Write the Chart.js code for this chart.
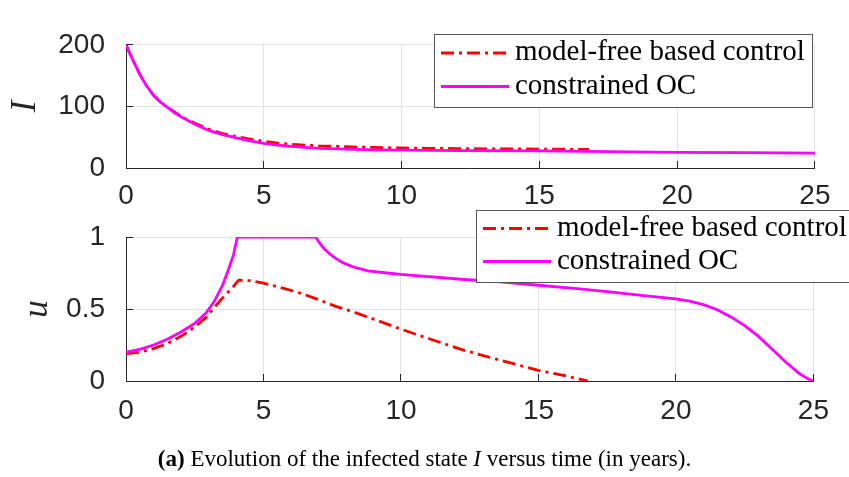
<!DOCTYPE html>
<html>
<head>
<meta charset="utf-8">
<script src="https://cdn.jsdelivr.net/npm/chart.js@4.4.1/dist/chart.umd.min.js"></script>
<style>
  body { margin: 0; background: #fff; }
  #wrap { position: relative; width: 849px; height: 477px; overflow: hidden; background: #fff; }
  #wrap canvas { position: absolute; left: 0; top: 0; }
  #caption {
    position: absolute; left: 0; top: 447px; width: 849px; text-align: center; white-space: nowrap;
    font-family: "Liberation Serif", serif; font-size: 23px; line-height: 23px; color: #000;
  }
</style>
</head>
<body>
<div id="wrap">
  <canvas id="infected" width="849" height="477"></canvas>
  <canvas id="control" width="849" height="477"></canvas>
  <div id="caption"><b>(a)</b> Evolution of the infected state <i>I</i> versus time (in years).</div>
</div>
<script>
// time grid ticks
const xTicks = [0, 5, 10, 15, 20, 25];
const iTicks = [0, 100, 200];
const uTicks = [0, 0.5, 1];

const seriesNames = ["model-free based control", "constrained OC"];

// infected state I(t)
const tI_mf = [0, 0.25, 0.5, 0.75, 1, 1.25, 1.5, 2, 2.5, 3, 3.5, 4, 4.5, 5, 5.5, 6, 7, 8, 9, 10, 11, 12, 13, 14, 15, 16, 16.8];
const I_mf  = [200, 175, 152, 133, 118, 107, 98.5, 84, 72.5, 63, 56, 51, 47, 43.5, 40.5, 38.5, 36, 34.5, 33.3, 32.5, 32, 31.5, 31.2, 31, 30.7, 30.4, 30.2];
const tI_oc = [0, 0.25, 0.5, 0.75, 1, 1.25, 1.5, 1.75, 2, 2.5, 3, 3.5, 4, 4.5, 5, 5.5, 6, 7, 8, 9, 10, 12, 15, 17.5, 20, 22.5, 25];
const I_oc  = [200, 175, 152, 133, 118, 107, 98.5, 90, 83, 71, 61, 54, 49, 44, 40, 37, 35, 32, 30.5, 29.5, 29, 28.3, 27.7, 26.5, 25.5, 24.8, 24.2];

// control u(t)
const tU_mf = [0, 0.5, 1, 1.5, 2, 2.5, 2.9, 3.3, 3.6, 3.9, 4.1, 4.5, 5, 5.5, 6, 6.5, 7, 7.6, 8.3, 9, 10, 11, 12.3, 13.5, 15, 16, 16.8];
const U_mf  = [0.19, 0.2, 0.225, 0.26, 0.31, 0.375, 0.44, 0.53, 0.595, 0.655, 0.70, 0.697, 0.68, 0.655, 0.63, 0.6, 0.565, 0.52, 0.478, 0.43, 0.36, 0.295, 0.213, 0.15, 0.074, 0.035, 0];
const tU_oc = [0, 0.5, 1, 1.5, 2, 2.5, 2.9, 3.2, 3.5, 3.7, 3.9, 4.05, 6.9, 7.05, 7.2, 7.4, 7.6, 7.9, 8.3, 8.8, 9.5, 10, 11, 12.3, 13.5, 15, 16.5, 17.5, 19, 20, 20.5, 21, 21.5, 22, 22.5, 23, 23.5, 24, 24.5, 24.8, 25];
const U_oc  = [0.2, 0.22, 0.25, 0.29, 0.34, 0.40, 0.47, 0.55, 0.66, 0.76, 0.87, 1, 1, 0.955, 0.92, 0.885, 0.855, 0.82, 0.79, 0.765, 0.75, 0.74, 0.725, 0.705, 0.69, 0.665, 0.64, 0.62, 0.59, 0.57, 0.555, 0.53, 0.495, 0.445, 0.385, 0.31, 0.22, 0.13, 0.05, 0.015, 0];

const AXIS = "#262626";
const GRID = "#e3e3e3";
const RED = "#ff0000";
const MAGENTA = "#ff00ff";
const DASHDOT = [13, 5, 3, 5];

const pts = (t, v) => t.map((x, i) => ({ x, y: v[i] }));

// boxed legend with line samples, drawn over the plot
const boxLegend = {
  id: "boxLegend",
  afterDraw(chart, args, opts) {
    const ctx = chart.ctx;
    const ds = chart.data.datasets;
    ctx.save();
    ctx.fillStyle = "#fff";
    ctx.fillRect(opts.x, opts.y, opts.w, opts.h);
    ctx.strokeStyle = "#555";
    ctx.lineWidth = 1;
    ctx.strokeRect(opts.x + 0.5, opts.y + 0.5, opts.w, opts.h);
    ctx.font = "29px 'Liberation Serif'";
    ctx.textBaseline = "alphabetic";
    ds.forEach((d, i) => {
      const cy = opts.rows[i];
      ctx.beginPath();
      ctx.setLineDash(d.borderDash || []);
      ctx.strokeStyle = d.borderColor;
      ctx.lineWidth = d.borderWidth;
      ctx.moveTo(opts.sx0, cy);
      ctx.lineTo(opts.sx1, cy);
      ctx.stroke();
      ctx.setLineDash([]);
      ctx.fillStyle = "#000";
      ctx.fillText(d.label, opts.tx, cy + 7);
    });
    ctx.restore();
  }
};

function makeChart(id, datasets, yMax, yTicks, yTitle, titlePad, pad, xPad, legendBox) {
  return new Chart(document.getElementById(id), {
    type: "line",
    data: { datasets },
    options: {
      responsive: false,
      animation: false,
      layout: { padding: pad },
      elements: { point: { radius: 0 }, line: { tension: 0 } },
      plugins: { legend: { display: false }, tooltip: { enabled: false }, boxLegend: legendBox },
      scales: {
        x: {
          type: "linear", min: 0, max: 25,
          afterBuildTicks: s => { s.ticks = xTicks.map(v => ({ value: v })); },
          afterFit: s => { s.height = 40; },
          grid: { color: GRID, tickColor: AXIS, tickLength: -7 },
          border: { color: AXIS, width: 1 },
          ticks: { color: AXIS, padding: xPad, maxRotation: 0, callback: v => String(v),
                   font: { family: "Liberation Sans", size: 28 } }
        },
        y: {
          type: "linear", min: 0, max: yMax,
          afterBuildTicks: s => { s.ticks = yTicks.map(v => ({ value: v })); },
          afterFit: s => { s.width = 126; },
          grid: { color: GRID, tickColor: AXIS, tickLength: -7 },
          border: { color: AXIS, width: 1 },
          ticks: { color: AXIS, padding: 28, callback: v => String(v),
                   font: { family: "Liberation Sans", size: 28 } },
          title: {
            display: true, text: yTitle, color: AXIS,
            padding: { top: titlePad, bottom: 0 },
            font: { family: "Liberation Serif", style: "italic", size: 35 }
          }
        }
      }
    },
    plugins: [boxLegend]
  });
}

makeChart("infected", [
  { label: seriesNames[0], data: pts(tI_mf, I_mf), borderColor: RED, borderWidth: 2.8, borderDash: DASHDOT, order: 2 },
  { label: seriesNames[1], data: pts(tI_oc, I_oc), borderColor: MAGENTA, borderWidth: 2.8, order: 1 }
], 200, iTicks, "I", 5, { left: 0, right: 18, top: 23, bottom: 269 }, 18.5,
  { x: 434, y: 34, w: 378, h: 73, rows: [53, 86.5], sx0: 441, sx1: 509, tx: 515 });

makeChart("control", [
  { label: seriesNames[0], data: pts(tU_mf, U_mf), borderColor: RED, borderWidth: 2.8, borderDash: DASHDOT, order: 2 },
  { label: seriesNames[1], data: pts(tU_oc, U_oc), borderColor: MAGENTA, borderWidth: 2.8, order: 1 }
], 1, uTicks, "u", 16.5, { left: 0, right: 18, top: 237, bottom: 56 }, 20,
  { x: 476, y: 210, w: 380, h: 72, rows: [228.5, 261.5], sx0: 483, sx1: 551, tx: 557 });
</script>
</body>
</html>
